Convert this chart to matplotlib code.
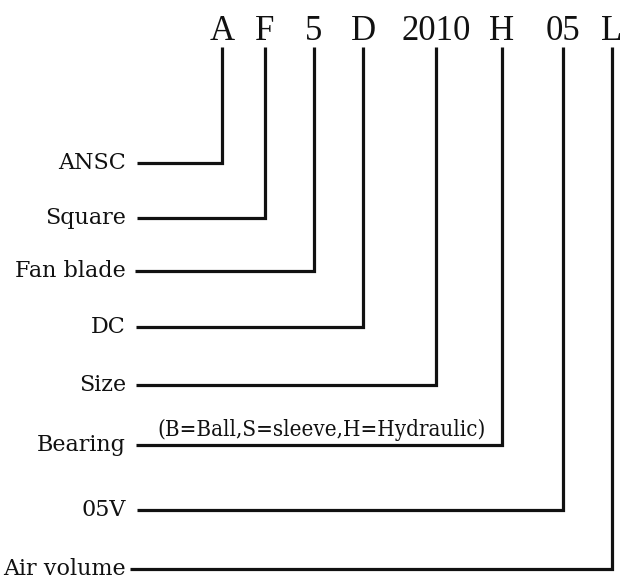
import matplotlib
matplotlib.use("Agg")
import matplotlib.pyplot as plt

# ---- data ----
codes = ["A", "F", "5", "D", "2010", "H", "05", "L"]
labels = ["ANSC", "Square", "Fan blade", "DC", "Size", "Bearing", "05V", "Air volume"]
note = "(B=Ball,S=sleeve,H=Hydraulic)"

# ---- layout (pixels) ----
code_x = [222, 265, 314, 363, 436, 502, 563, 612]
code_y = 31
line_top = 47
row_y = [163, 218, 271, 327, 385, 445, 510, 569]
line_left = [137, 137, 135, 136, 136, 136, 137, 130]
label_right = 126

code_font = dict(family="Liberation Serif")
font = dict(family="DejaVu Serif")
note_font = dict(family="DejaVu Serif", stretch="condensed")

fig = plt.figure(figsize=(6.22, 5.82), dpi=100)
ax = fig.add_axes([0, 0, 1, 1])
ax.set_xlim(0, 622)
ax.set_ylim(582, 0)
ax.axis("off")

lw = 2.3

for c, x in zip(codes, code_x):
    ax.text(x, code_y, c, ha="center", va="center", fontsize=25, color="#111", **code_font)

for lab, x, y, xl in zip(labels, code_x, row_y, line_left):
    ax.plot([xl, x, x], [y, y, line_top], color="#111", lw=lw, solid_joinstyle="miter",
            solid_capstyle="butt")
    ax.text(label_right, y, lab, ha="right", va="center", fontsize=16, color="#111", **font)

ax.text(322, 430, note, ha="center", va="center", fontsize=16, color="#111", **note_font)

fig.savefig("out.png", dpi=100, facecolor="white")
